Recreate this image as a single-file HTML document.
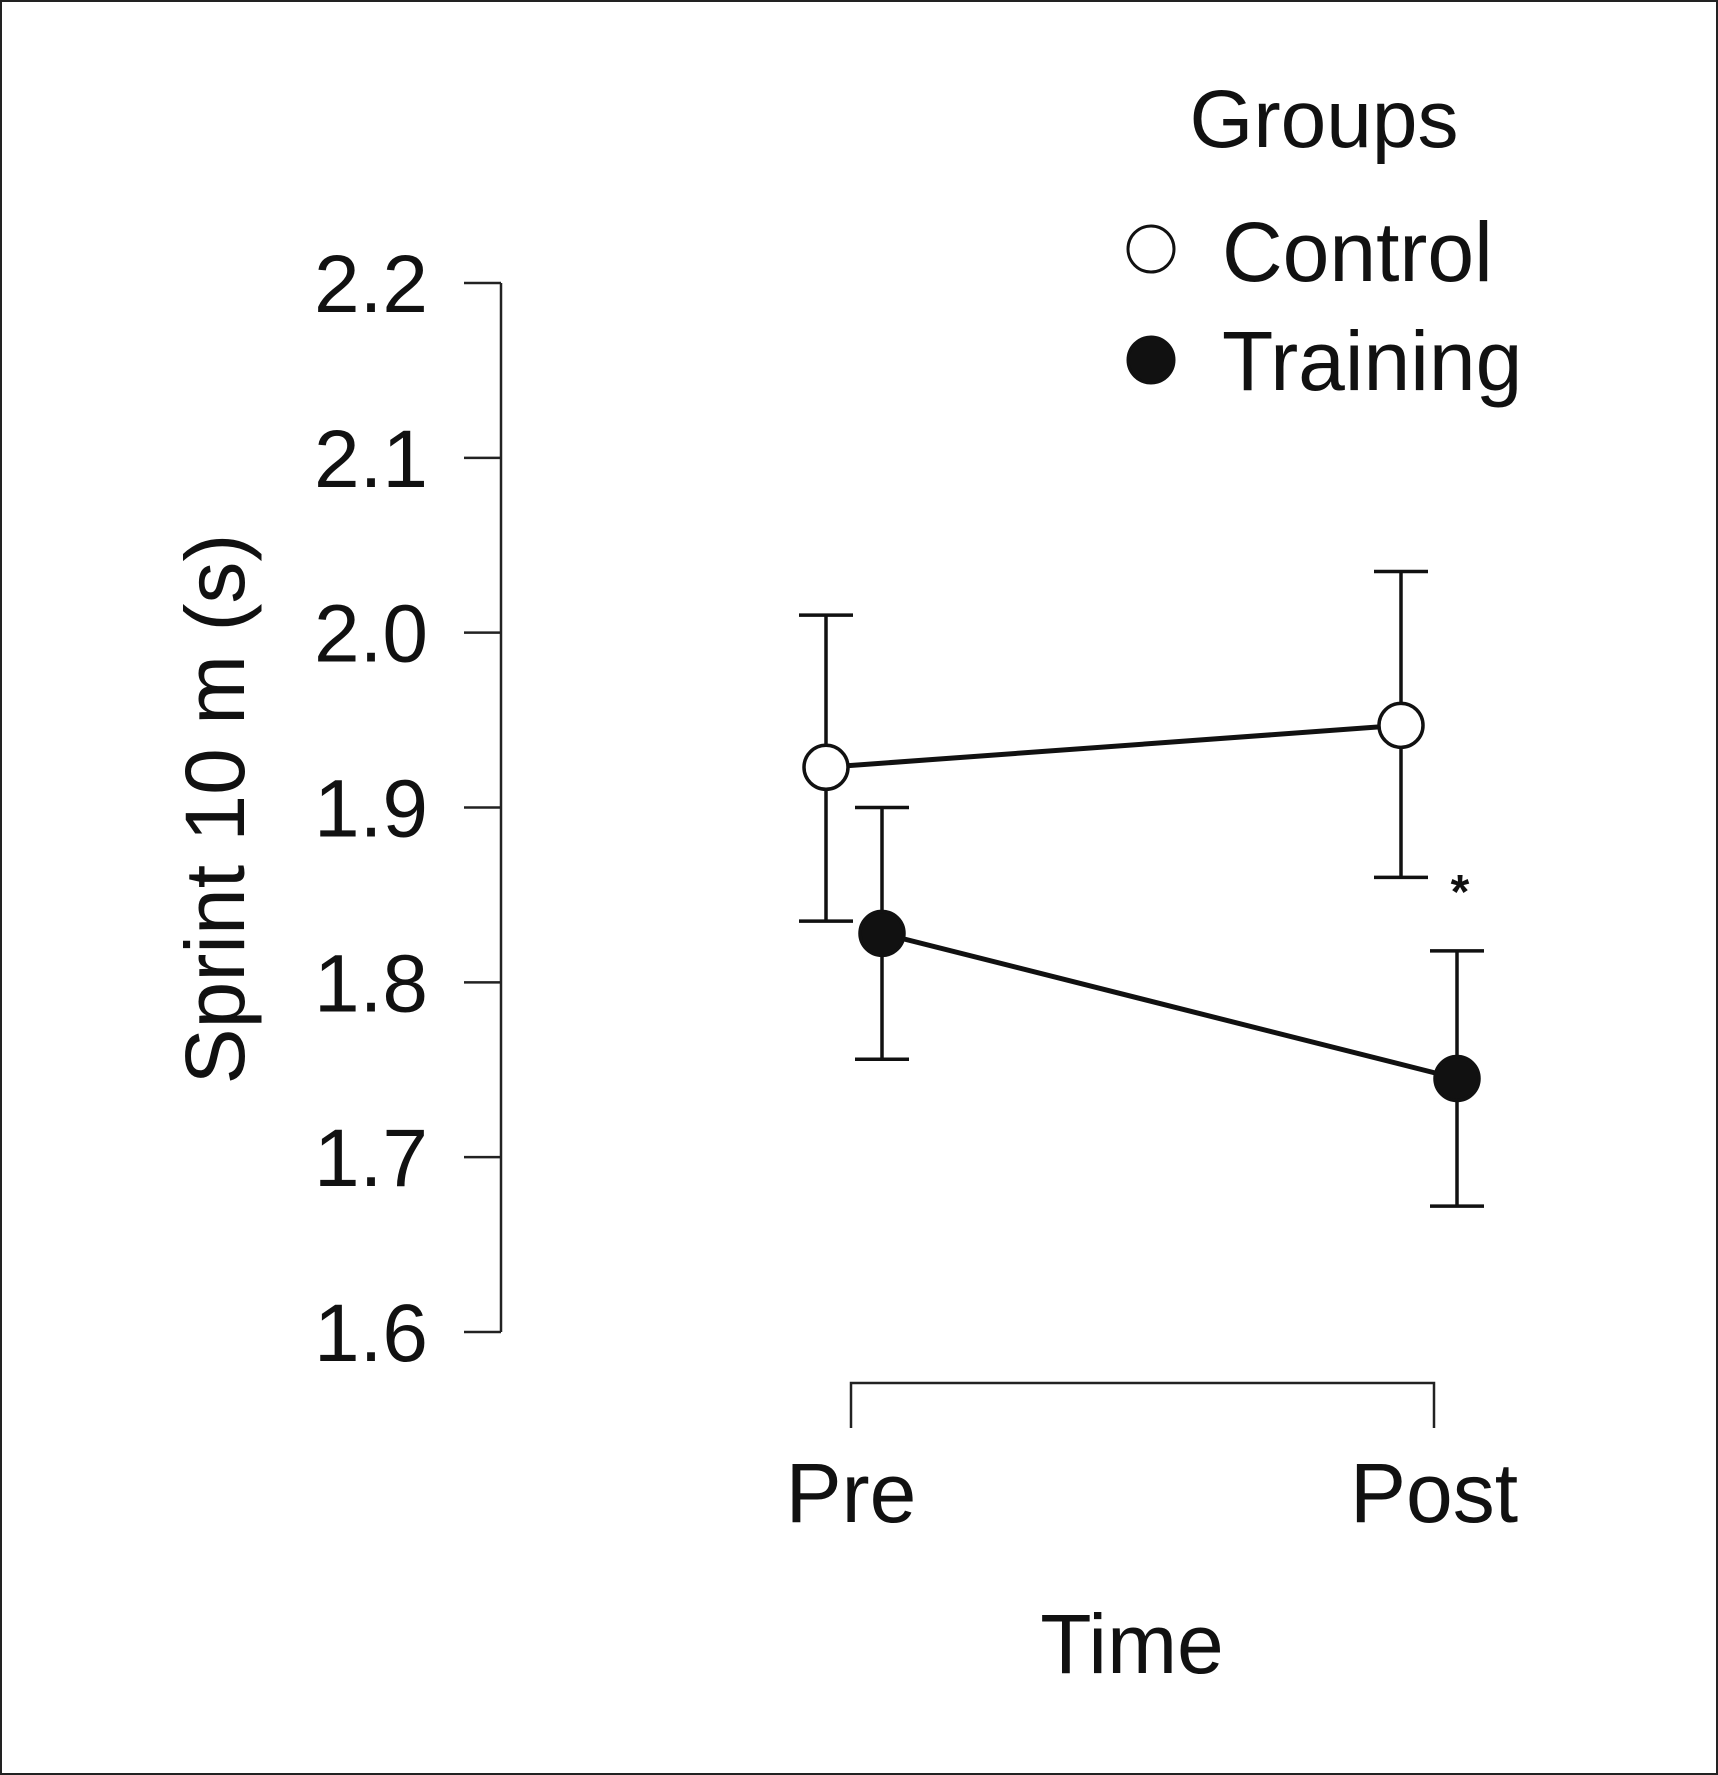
<!DOCTYPE html>
<html><head><meta charset="utf-8"><style>
html,body{margin:0;padding:0;background:#fff}
svg{display:block}
text{font-family:"Liberation Sans",Arial,sans-serif;fill:#111}
</style></head><body>
<svg width="1718" height="1775" viewBox="0 0 1718 1775">
<rect x="1" y="1" width="1716" height="1773" fill="#fff" stroke="#222" stroke-width="2"/>
<g id="axes"></g>
<g id="marks"></g>
<text x="1324" y="147" font-size="82" text-anchor="middle">Groups</text>
<circle cx="1151" cy="249" r="23" fill="#fff" stroke="#111" stroke-width="3"/>
<text x="1222" y="281" font-size="84">Control</text>
<circle cx="1151" cy="360" r="23" fill="#111" stroke="#111" stroke-width="3"/>
<text x="1222" y="390" font-size="84">Training</text>
<text transform="translate(244,809) rotate(-90)" font-size="84" text-anchor="middle">Sprint 10 m (s)</text>
<text x="1132" y="1673" font-size="84" text-anchor="middle">Time</text>
<text x="1460" y="908" font-size="48" text-anchor="middle" font-weight="bold">*</text>
</svg>
<script>
const categories=["Pre","Post"];
const yTicks=[1.6,1.7,1.8,1.9,2.0,2.1,2.2];
const yTickLabels=["1.6","1.7","1.8","1.9","2.0","2.1","2.2"];
const controlMean=[1.923,1.947];
const controlUpper=[2.010,2.035];
const controlLower=[1.835,1.860];
const trainingMean=[1.828,1.745];
const trainingUpper=[1.900,1.818];
const trainingLower=[1.756,1.672];

const NS="http://www.w3.org/2000/svg";
function y(v){return 1332-(v-1.6)/0.6*(1332-283);}
function x(i){return 851+i*(1434-851);}
function xd(i){return 851+i*(1434-851-8);}
const offC=-25,offT=31;
function mk(tag,attrs,parent){const e=document.createElementNS(NS,tag);for(const k in attrs)e.setAttribute(k,attrs[k]);document.getElementById(parent).appendChild(e);return e;}
let e;
e=mk('line',{x1:501,y1:y(2.2),x2:501,y2:y(1.6),stroke:'#222','stroke-width':2.5},'axes');


yTicks.forEach((t,i)=>{
 let l=mk('line',{x1:464,x2:501,y1:y(t),y2:y(t),stroke:'#222','stroke-width':2.5},'axes');
 
 
 let tx=mk('text',{x:428,y:y(t)+29,'font-size':82,'text-anchor':'end'},'axes');
 tx.textContent=yTickLabels[i];
 
 
});
e=mk('path',{d:`M${x(0)} 1428 V1383 H${x(1)} V1428`,fill:'none',stroke:'#222','stroke-width':2.5},'axes');


categories.forEach((c,i)=>{
 let tx=mk('text',{x:x(i),y:1522,'font-size':84,'text-anchor':'middle'},'axes');
 tx.textContent=c;
 
 
});
function series(mean,up,lo,off,fill,name){
 let pts=mean.map((m,i)=>`${xd(i)+off},${y(m)}`).join(' ');
 let pl=mk('polyline',{points:pts,fill:'none',stroke:'#111','stroke-width':5},'marks');
 
 
 mean.forEach((m,i)=>{
  const cx=xd(i)+off;
  let eb=mk('path',{d:`M${cx-27} ${y(up[i])} H${cx+27} M${cx} ${y(up[i])} V${y(lo[i])} M${cx-27} ${y(lo[i])} H${cx+27}`,fill:'none',stroke:'#111','stroke-width':3.5},'marks');
  
  
 });
 mean.forEach((m,i)=>{
  let c=mk('circle',{cx:xd(i)+off,cy:y(m),r:22,fill:fill,stroke:'#111','stroke-width':3.5},'marks');
  
  
 });
}
series(controlMean,controlUpper,controlLower,offC,'#fff','control');
series(trainingMean,trainingUpper,trainingLower,offT,'#111','training');
</script>
</body></html>
